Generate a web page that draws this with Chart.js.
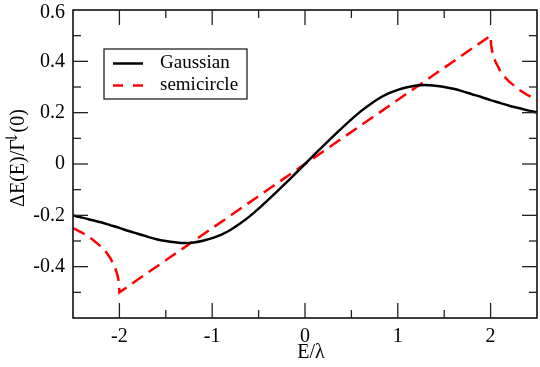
<!DOCTYPE html>
<html>
<head>
<meta charset="utf-8">
<script src="https://cdn.jsdelivr.net/npm/chart.js@4.4.1/dist/chart.umd.min.js"></script>
<style>
  body { margin: 0; background: #fff; }
  #wrap { width: 540px; height: 367px; position: relative; }
</style>
</head>
<body>
<div id="wrap"><canvas id="chart"></canvas></div>
<script>
// Gaussian curve, every 0.1
const xGauss = [-2.5, -2.4, -2.3, -2.2, -2.1, -2.0, -1.9, -1.8, -1.7, -1.6, -1.5, -1.4, -1.3, -1.2, -1.1, -1.0, -0.9, -0.8, -0.7, -0.6, -0.5, -0.4, -0.3, -0.2, -0.1,
  0, 0.1, 0.2, 0.3, 0.4, 0.5, 0.6, 0.7, 0.8, 0.9, 1.0, 1.1, 1.2, 1.3, 1.4, 1.5, 1.6, 1.7, 1.8, 1.9, 2.0, 2.1, 2.2, 2.3, 2.4, 2.5];
const yGauss = [-0.201, -0.209, -0.218, -0.227, -0.238, -0.249, -0.261, -0.272, -0.283, -0.293, -0.300, -0.305, -0.308, -0.306, -0.299, -0.289, -0.275, -0.256, -0.232, -0.205, -0.174, -0.141, -0.107, -0.072, -0.036,
  0, 0.036, 0.072, 0.107, 0.141, 0.174, 0.205, 0.232, 0.256, 0.275, 0.289, 0.299, 0.306, 0.308, 0.305, 0.300, 0.293, 0.283, 0.272, 0.261, 0.249, 0.238, 0.227, 0.218, 0.209, 0.201];

// semicircle curve
const xSemi = [-2.5, -2.4, -2.3, -2.2, -2.15, -2.1, -2.05, -2.02, -2.01, -2.005, -2, 2, 2.005, 2.01, 2.02, 2.05, 2.1, 2.15, 2.2, 2.3, 2.4, 2.5];
const ySemi = [-0.25, -0.268, -0.291, -0.321, -0.340, -0.365, -0.400, -0.434, -0.4525, -0.466, -0.5, 0.5, 0.466, 0.4525, 0.434, 0.400, 0.365, 0.340, 0.321, 0.291, 0.268, 0.25];

const xTicks = [-2, -1, 0, 1, 2];
const xMinor = [-1.5, -0.5, 0.5, 1.5];
const yTicks = [-0.4, -0.2, 0, 0.2, 0.4, 0.6];
const yMinor = [-0.5, -0.3, -0.1, 0.1, 0.3, 0.5];
const yInner = [-0.4, -0.2, 0, 0.2, 0.4];

const serif = '"Liberation Serif"';

const frame = {
  id: 'frame',
  afterDraw(chart) {
    const c = chart.ctx;
    const a = chart.chartArea;
    const sx = chart.scales.x, sy = chart.scales.y;
    c.save();
    c.strokeStyle = '#000';
    c.lineWidth = 1.5;
    c.strokeRect(a.left, a.top, a.right - a.left, a.bottom - a.top);

    c.lineWidth = 1.3;
    c.strokeStyle = '#222';
    const tick = (x1, y1, x2, y2) => { c.beginPath(); c.moveTo(x1, y1); c.lineTo(x2, y2); c.stroke(); };
    xTicks.forEach(v => { const p = sx.getPixelForValue(v); tick(p, a.bottom, p, a.bottom - 15); tick(p, a.top, p, a.top + 15); });
    xMinor.forEach(v => { const p = sx.getPixelForValue(v); tick(p, a.bottom, p, a.bottom - 8); tick(p, a.top, p, a.top + 8); });
    yInner.forEach(v => { const p = sy.getPixelForValue(v); tick(a.left, p, a.left + 15, p); tick(a.right, p, a.right - 15, p); });
    yMinor.forEach(v => { const p = sy.getPixelForValue(v); tick(a.left, p, a.left + 8, p); tick(a.right, p, a.right - 8, p); });

    // tick labels
    c.fillStyle = '#000';
    c.font = '20px ' + serif;
    c.textBaseline = 'middle';
    c.textAlign = 'right';
    yTicks.forEach(v => { const p = Math.max(sy.getPixelForValue(v), 13); c.fillText(String(v), a.left - 8, p); });
    c.textAlign = 'center';
    xTicks.forEach(v => { c.fillText(String(v), sx.getPixelForValue(v), a.bottom + 18.5); });

    // legend
    c.fillStyle = '#fff';
    c.fillRect(104, 49, 143, 50);
    c.strokeStyle = '#222';
    c.lineWidth = 1.3;
    c.strokeRect(104, 49, 143, 50);
    c.lineWidth = 2.5;
    c.strokeStyle = '#000';
    tick(113, 63.5, 143, 63.5);
    c.strokeStyle = '#ff0000';
    c.setLineDash([10, 10]);
    tick(113, 85.5, 143, 85.5);
    c.setLineDash([]);
    c.fillStyle = '#000';
    c.font = '19px ' + serif;
    c.textAlign = 'left';
    c.fillText('Gaussian', 160, 63);
    c.fillText('semicircle', 160, 85);

    // axis titles
    c.textAlign = 'center';
    c.font = '20px ' + serif;
    c.fillText('E/\u03bb', 311, 353);

    c.translate(19, 158);
    c.rotate(-Math.PI / 2);
    c.textAlign = 'left';
    const p1 = '\u0394E(E)/\u0393', p2 = '\u2193', p3 = '(0)';
    c.font = '20px ' + serif;
    const w1 = c.measureText(p1).width, w3 = c.measureText(p3).width;
    c.font = '16px "DejaVu Serif"';
    const w2 = c.measureText(p2).width;
    const start = -(w1 + w2 * 0.5 + w3) / 2;
    c.font = '20px ' + serif;
    c.fillText(p1, start, 0);
    c.font = '16px "DejaVu Serif"';
    c.fillText(p2, start + w1 - w2 * 0.4, -6);
    c.font = '20px ' + serif;
    c.fillText(p3, start + w1 + w2 * 0.5, 0);
    c.restore();
  }
};

const chart = document.querySelector('#chart').getContext('2d');

new Chart(chart, {
  type: 'scatter',
  data: {
    datasets: [
      {
        label: 'Gaussian',
        data: xGauss.map((x, i) => ({ x: x, y: yGauss[i] })),
        showLine: true,
        borderColor: '#000',
        borderWidth: 2.5,
        pointRadius: 0,
        cubicInterpolationMode: 'monotone'
      },
      {
        label: 'semicircle',
        data: xSemi.map((x, i) => ({ x: x, y: ySemi[i] })),
        showLine: true,
        borderColor: '#ff0000',
        borderWidth: 2.5,
        borderDash: [13, 7],
        pointRadius: 0,
        tension: 0
      }
    ]
  },
  options: {
    responsive: true,
    maintainAspectRatio: false,
    animation: false,
    layout: { padding: { top: 10, right: 3, left: 0, bottom: 0 } },
    plugins: { legend: { display: false }, tooltip: { enabled: false } },
    scales: {
      x: {
        type: 'linear',
        min: -2.5,
        max: 2.5,
        afterBuildTicks: s => { s.ticks = xTicks.map(v => ({ value: v })); },
        afterFit: s => { s.height = 49; },
        grid: { display: false },
        border: { display: false },
        ticks: { display: false }
      },
      y: {
        type: 'linear',
        min: -0.6,
        max: 0.6,
        afterBuildTicks: s => { s.ticks = yTicks.map(v => ({ value: v })); },
        afterFit: s => { s.width = 73; },
        grid: { display: false },
        border: { display: false },
        ticks: { display: false }
      }
    }
  },
  plugins: [frame]
});
</script>
</body>
</html>
